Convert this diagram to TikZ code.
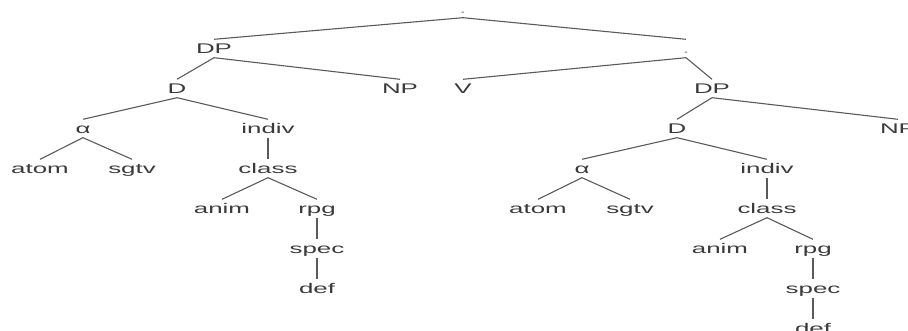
\documentclass[tikz,border=0pt]{standalone}
\usepackage{fontspec}
\setmainfont{Liberation Sans}[FakeStretch=1.85]
\definecolor{txtgray}{HTML}{3A3A3A}
\definecolor{lngray}{HTML}{5A5A5A}
\begin{document}
\begin{tikzpicture}[x=1pt,y=-1pt,
  tnode/.style={inner xsep=0pt, inner ysep=4pt, text height=10pt, text depth=0pt,
    anchor=base, font=\fontsize{14}{16}\selectfont, text=txtgray},
  dotnode/.style={tnode, text=black!35},
  edge/.style={draw=lngray, line width=1.1pt}]
\clip (0,0) rectangle (908,331);
% level 0 / 1
\node[dotnode] (root) at (463,13.5) {.};
\node[tnode] (dpL) at (214,53.5) {DP};
\node[dotnode] (vbar) at (686,53.5) {.};
% level 2
\node[tnode] (dL) at (177,93.5) {D};
\node[tnode] (npL) at (400,93.5) {NP};
\node[tnode] (v) at (463,93.5) {V};
\node[tnode] (dpR) at (712,93.5) {DP};
% level 3
\node[tnode] (alL) at (83,133.5) {α};
\node[tnode] (inL) at (268,133.5) {indiv};
\node[tnode] (dR) at (677,133.5) {D};
\node[tnode] (npR) at (898,133.5) {NP};
% level 4
\node[tnode] (atL) at (40,173.5) {atom};
\node[tnode] (sgL) at (132,173.5) {sgtv};
\node[tnode] (clL) at (268,173.5) {class};
\node[tnode] (alR) at (582,173.5) {α};
\node[tnode] (inR) at (767,173.5) {indiv};
% level 5
\node[tnode] (anL) at (222,213.5) {anim};
\node[tnode] (rpL) at (317,213.5) {rpg};
\node[tnode] (atR) at (538,213.5) {atom};
\node[tnode] (sgR) at (630,213.5) {sgtv};
\node[tnode] (clR) at (767,213.5) {class};
% level 6
\node[tnode] (spL) at (317,253.5) {spec};
\node[tnode] (anR) at (720,253.5) {anim};
\node[tnode] (rpR) at (813,253.5) {rpg};
% level 7
\node[tnode] (dfL) at (317,293.5) {def};
\node[tnode] (spR) at (813,293.5) {spec};
% level 8
\node[tnode] (dfR) at (813,333.5) {def};
% edges
\foreach \a/\b in {root/dpL, root/vbar, dpL/dL, dpL/npL, vbar/v, vbar/dpR,
  dL/alL, dL/inL, alL/atL, alL/sgL, inL/clL, clL/anL, clL/rpL, rpL/spL, spL/dfL,
  dpR/dR, dpR/npR, dR/alR, dR/inR, alR/atR, alR/sgR, inR/clR, clR/anR, clR/rpR, rpR/spR, spR/dfR}
  \draw[edge] (\a.south) -- (\b.north);
\end{tikzpicture}
\end{document}
